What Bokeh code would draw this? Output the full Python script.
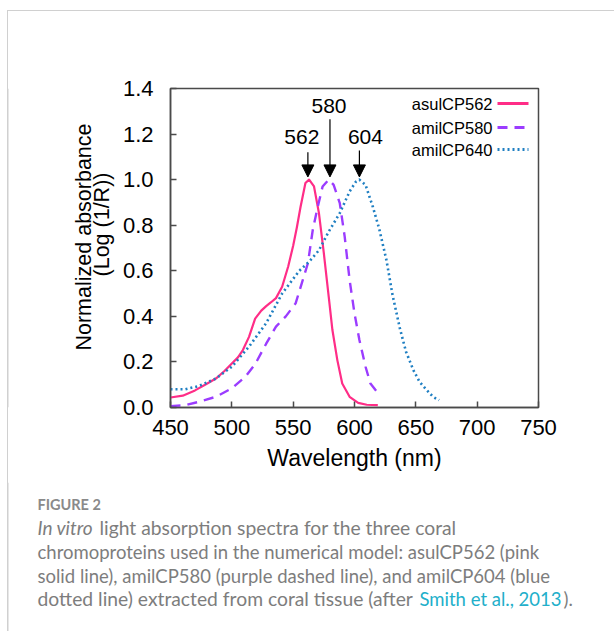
from bokeh.plotting import figure
from bokeh.layouts import column, row
from bokeh.models import (Range1d, FixedTicker, Label, Arrow, NormalHead,
                          PrintfTickFormatter, Span)
from bokeh.embed import file_html
from bokeh.resources import INLINE

# ---------------- data ----------------
series_names = ["asulCP562", "amilCP580", "amilCP640"]

asul_nm = [450, 460, 470, 480, 487, 494, 500, 505, 509, 514, 519, 524, 528, 532, 536, 541, 546, 550,
           553, 556, 560, 563, 567, 571, 575, 579, 582, 586, 590, 596, 603, 610, 619]
asul_abs = [0.044, 0.052, 0.075, 0.105, 0.127, 0.16, 0.193, 0.22, 0.252, 0.31, 0.39, 0.425, 0.445, 0.462,
            0.48, 0.53, 0.62, 0.71, 0.79, 0.88, 0.985, 1.0, 0.97, 0.853, 0.677, 0.486, 0.34, 0.208, 0.105,
            0.047, 0.02, 0.012, 0.01]

amil580_nm = [450, 462, 473, 487, 500, 511, 519, 528, 536, 544, 552, 557, 562, 566, 570, 574, 579, 583,
              588, 592, 596, 600, 604, 609, 613, 619]
amil580_abs = [0.006, 0.01, 0.025, 0.047, 0.084, 0.135, 0.19, 0.28, 0.355, 0.40, 0.457, 0.545, 0.633,
               0.78, 0.88, 0.97, 1.0, 0.977, 0.897, 0.75, 0.56, 0.413, 0.296, 0.179, 0.105, 0.064]

amil640_nm = [450, 462, 473, 487, 500, 514, 528, 541, 555, 563, 571, 579, 588, 596, 601, 604, 609, 615,
              620, 626, 631, 637, 642, 648, 653, 659, 664, 669]
amil640_abs = [0.08, 0.08, 0.094, 0.127, 0.179, 0.267, 0.37, 0.50, 0.60, 0.64, 0.69, 0.772, 0.853, 0.948,
               0.99, 1.0, 0.977, 0.88, 0.787, 0.648, 0.494, 0.347, 0.245, 0.164, 0.113, 0.076, 0.047, 0.032]

peak_nm = [562, 580, 604]
peak_labels = ["562", "580", "604"]

x_ticks = [450, 500, 550, 600, 650, 700, 750]
y_ticks = [0.0, 0.2, 0.4, 0.6, 0.8, 1.0, 1.2, 1.4]

x_label = "Wavelength (nm)"
y_label_lines = ["Normalized absorbance", "(Log (1/R))"]

caption_head = "FIGURE 2"
caption_italic = "In vitro"
caption_lines = ["light absorption spectra for the three coral",
                 "chromoproteins used in the numerical model: asulCP562 (pink",
                 "solid line), amilCP580 (purple dashed line), and amilCP604 (blue",
                 "dotted line) extracted from coral tissue (after"]
caption_link = "Smith et al., 2013"
caption_end = ")."

# ---------------- style / layout ----------------
colors = ["#ff2d87", "#9b3cff", "#1f7fc2"]
dashes = ["solid", "10 7", "2 3"]
widths = [2.2, 2.4, 2.6]
FONT = "Liberation Sans"
CAP_FONT = "Lato"
CAP_COLOR = "#7d7d7d"
LINK_COLOR = "#22afca"
AX_COLOR = "#4a4a4a"
BORDER = "#d0d0d0"

W, H = 614, 631
CHART_H = 482
LEFT_W = 118        # strip holding the y axis title
CAP_H = H - CHART_H
FR_L, FR_R, FR_T, FR_B = 170, 538, 88, 407   # plot frame on the page

peak_label_y = [1.185, 1.325, 1.185]
peak_label_dx = [-6, -1, 6]
arrow_start_y = [1.12, 1.265, 1.128]
arrow_tip_y = 1.012


def blank(w, h, x0, x1, y_top, y_bot, mt=0, mb=0):
    f = figure(width=w, height=h, x_range=Range1d(x0, x1), y_range=Range1d(y_bot, y_top),
               x_axis_type=None, y_axis_type=None, output_backend="svg", toolbar_location=None,
               title=None, min_border=0, min_border_left=0, min_border_right=0,
               min_border_top=mt, min_border_bottom=mb)
    f.outline_line_color = None
    f.background_fill_alpha = 0
    f.border_fill_alpha = 0
    return f


# --- left strip: y axis title (frame aligned with the chart frame)
fl = blank(LEFT_W, CHART_H, 0, LEFT_W, FR_T, FR_B, mt=FR_T, mb=CHART_H - FR_B)
fl.add_layout(Span(location=7.5, dimension="height", line_color=BORDER, line_width=1))
fl.add_layout(Label(x=83.5, y=236.5, text=y_label_lines[0], angle=90, angle_units="deg",
                    text_align="center", text_baseline="middle", text_font=FONT,
                    text_font_size="21.5px", text_color="black"))
fl.add_layout(Label(x=101.5, y=224, text=y_label_lines[1], angle=90, angle_units="deg",
                    text_align="center", text_baseline="middle", text_font=FONT,
                    text_font_size="21.5px", text_color="black"))

# --- chart
p = figure(width=W - LEFT_W, height=CHART_H, x_range=Range1d(450, 750), y_range=Range1d(0, 1.4),
           output_backend="svg", toolbar_location=None, title=None,
           min_border_left=FR_L - LEFT_W, min_border_right=W - FR_R, min_border_top=FR_T,
           min_border_bottom=CHART_H - FR_B)
p.background_fill_color = "white"
p.border_fill_alpha = 0
p.outline_line_color = AX_COLOR
p.outline_line_width = 1.5
p.xgrid.visible = False
p.ygrid.visible = False

for ax in (p.xaxis[0], p.yaxis[0]):
    ax.axis_line_color = AX_COLOR
    ax.axis_line_width = 1.5
    ax.major_tick_in = 6
    ax.major_tick_out = 0
    ax.major_tick_line_color = AX_COLOR
    ax.major_tick_line_width = 1.5
    ax.minor_tick_line_color = None
    ax.major_label_text_font = FONT
    ax.major_label_text_font_size = "22px"
    ax.major_label_text_color = "black"

p.xaxis.ticker = FixedTicker(ticks=x_ticks)
p.yaxis.ticker = FixedTicker(ticks=y_ticks)
p.yaxis.formatter = PrintfTickFormatter(format="%.1f")
p.xaxis.major_label_standoff = 12
p.yaxis.major_label_standoff = 17
p.xaxis.axis_label = x_label
p.xaxis.axis_label_text_font = FONT
p.xaxis.axis_label_text_font_size = "23px"
p.xaxis.axis_label_text_font_style = "normal"
p.xaxis.axis_label_text_color = "black"
p.xaxis.axis_label_standoff = 7

xs = [asul_nm, amil580_nm, amil640_nm]
ys = [asul_abs, amil580_abs, amil640_abs]
for x, y, c, d, w in zip(xs, ys, colors, dashes, widths):
    p.line(x, y, line_color=c, line_width=w, line_dash=d, line_cap="butt", line_join="round")

for nm, lab, ly, dx, sy in zip(peak_nm, peak_labels, peak_label_y, peak_label_dx, arrow_start_y):
    p.add_layout(Arrow(end=NormalHead(size=12, fill_color="black", line_color="black", line_width=1),
                       x_start=nm, y_start=sy, x_end=nm, y_end=arrow_tip_y,
                       line_color="black", line_width=1.2))
    p.add_layout(Label(x=nm, y=ly, x_offset=dx, text=lab, text_align="center", text_baseline="middle",
                       text_font=FONT, text_font_size="21px", text_color="black"))

# legend: text, then sample on the right
leg_rows_y = [304, 280, 258]
for name, c, d, w, ry in zip(series_names, colors, dashes, widths, leg_rows_y):
    p.add_layout(Label(x=322, y=ry, x_units="screen", y_units="screen", text=name,
                       text_align="right", text_baseline="middle", text_font=FONT,
                       text_font_size="16.5px", text_color="black"))
    p.add_layout(Arrow(start=None, end=None, x_start=327, y_start=ry, x_end=358, y_end=ry,
                       start_units="screen", end_units="screen",
                       line_color=c, line_width=w + 0.6, line_dash=d))

# --- caption
fb = blank(W, CAP_H, 0, W, CHART_H, H)
fb.add_layout(Span(location=7.5, dimension="height", line_color=BORDER, line_width=1))


def cap(text, px, py, color=CAP_COLOR, size="18.5px", style="normal"):
    fb.add_layout(Label(x=px, y=py, text=text, text_align="left", text_baseline="middle",
                        text_font=CAP_FONT, text_font_size=size, text_font_style=style,
                        text_color=color))


cap(caption_head, 37, 504, color="#8a8a8a", size="14.5px", style="bold")
cap(caption_italic, 37, 527, style="italic", size="19px")
cap(caption_lines[0], 99, 527, size="19.3px")
cap(caption_lines[1], 37, 551)
cap(caption_lines[2], 37, 575)
cap(caption_lines[3], 37, 598, size="19.3px")
cap(caption_link, 419, 598, color=LINK_COLOR)
cap(caption_end, 563, 598)

# card border (top and left edges) drawn behind the transparent canvases
card_styles = {
    "background-image": f"linear-gradient({BORDER}, {BORDER}), linear-gradient({BORDER}, {BORDER})",
    "background-size": f"1px {H - 10}px, {W - 7}px 1px",
    "background-position": "7px 10px, 7px 10px",
    "background-repeat": "no-repeat",
}
layout = column(row(fl, p, spacing=0), fb, spacing=0, styles=card_styles)
open("out.html", "w").write(file_html(layout, INLINE))
